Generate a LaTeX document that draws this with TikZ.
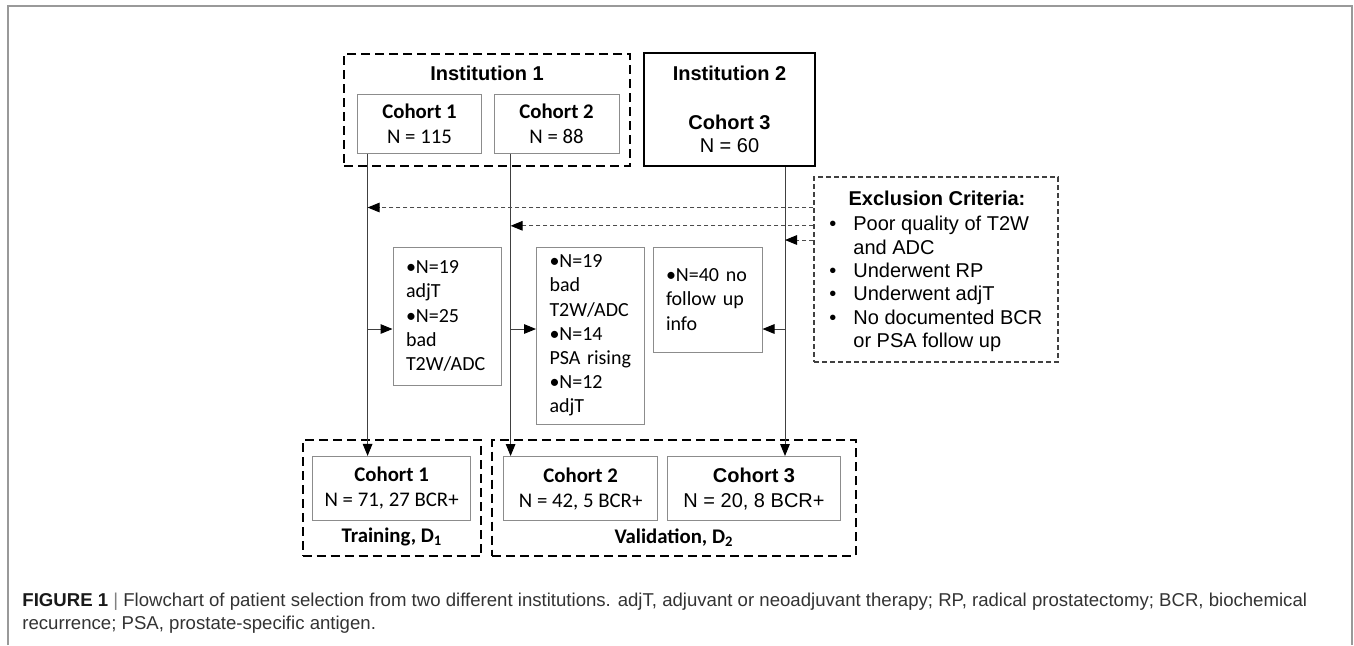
\documentclass[tikz,border=0pt]{standalone}
\usepackage{fontspec}
\setmainfont{Liberation Sans}
\newfontfamily\calfont{Carlito}
\usetikzlibrary{arrows.meta,positioning}

\begin{document}
\begin{tikzpicture}[%
    x=0.5pt, y=-0.5pt,                       % one unit is one pixel of the sketch
    >={Triangle[length=6pt,width=4.8pt,color=black]},  % filled arrow heads
    font=\fontsize{10}{11.5}\selectfont,     % Arial-like text by default
    ]
% -------------------------------------------------
% A few box styles
\tikzset{
  base/.style={draw, align=center, inner sep=0pt},
  cal/.style={font=\calfont\fontsize{10.4}{12.5}\selectfont},
  grp/.style={base, line width=1pt, dash pattern=on 4.5pt off 2.5pt},
  cohort/.style={base, cal, draw=black!45, line width=0.5pt},
  instbox/.style={base, line width=1pt},
  excl/.style={base, draw=black!75, line width=0.6pt, dash pattern=on 2.5pt off 1.5pt},
  outbox/.style={base, draw=black!45, line width=0.5pt, align=left,
    font=\calfont\fontsize{10}{12.1}\selectfont, inner xsep=6.5pt},
  % Connector line styles
  flow/.style={draw=black!75, line width=0.5pt},
  to/.style={flow, ->},
  dsh/.style={->, draw=black!70, line width=0.5pt, dash pattern=on 2pt off 1.5pt},
  frame/.style={draw=black!40, line width=1pt},
  it/.style={font=\calfont\bfseries\fontsize{10.4}{12.5}\selectfont},
  capline/.style={anchor=west, inner sep=0pt, text=black!80, font=\fontsize{9.3}{11.5}\selectfont}
}
\useasboundingbox (0,0) rectangle (1354,645);
\draw[frame] (8,645) -- (8,6) -- (1352,6) -- (1352,645);
% -------------------------------------------------
% Sources
\node [grp, minimum width=143pt, minimum height=56pt] (inst1) at (487,110) {};
\node [font=\bfseries\fontsize{10}{12}\selectfont] (inst1t) at (487,73) {Institution 1};
\node [cohort, minimum width=62pt, minimum height=29.5pt] (coh1a) at (419.5,123.5)
  {\textbf{Cohort 1}\\N = 115};
\node [cohort, minimum width=62.5pt, minimum height=29.5pt] (coh2a) at (556.5,123.5)
  {\textbf{Cohort 2}\\N = 88};
\node [instbox, minimum width=85.5pt, minimum height=56.5pt] (inst2) at (729.5,109.5)
  {\textbf{Institution 2}\\[13pt]\textbf{Cohort 3}\\N = 60};

% Exclusion criteria
\node [excl, minimum width=122pt, minimum height=92.5pt] (excl) at (936,269.5) {};
\node [font=\bfseries\fontsize{10}{12}\selectfont] (exclt) at (937,198) {Exclusion Criteria:};
\node [anchor=north west, inner sep=0pt, font=\fontsize{10}{11.7}\selectfont] (exlist) at (829,214)
  {\begin{tabular}{@{}p{12pt}@{}l@{}}
   \textbullet & Poor quality of T2W\\
               & and ADC\\
   \textbullet & Underwent RP\\
   \textbullet & Underwent adjT\\
   \textbullet & No documented BCR\\
               & or PSA follow up
   \end{tabular}};

% Excluded patients
\node [outbox, text width=41pt, minimum height=69pt] (outA) at (447,316)
  {•N=19\\adjT\\•N=25\\bad\\T2W/ADC};
\node [outbox, text width=41pt, minimum height=88.5pt] (outB) at (590.5,335.5)
  {•N=19\\bad\\T2W/ADC\\•N=14\\PSA rising\\•N=12\\adjT};
\node [outbox, text width=41.5pt, minimum height=52.5pt] (outC) at (707.5,299.5)
  {•N=40 no\\follow up\\info};

% Final data sets
\node [grp, minimum width=89.4pt, minimum height=57.7pt] (train) at (392,498) {};
\node [grp, minimum width=181.8pt, minimum height=57.7pt] (valid) at (674.2,498) {};
\node [cohort, minimum width=79.2pt, minimum height=31.9pt] (coh1b) at (391.6,488.3)
  {\textbf{Cohort 1}\\N = 71, 27 BCR+};
\node [cohort, minimum width=76.8pt, minimum height=32.2pt] (coh2b) at (580.6,488.7)
  {\textbf{Cohort 2}\\N = 42, 5 BCR+};
\node [base, draw=black!45, line width=0.5pt, minimum width=86.3pt, minimum height=32.2pt,
  font=\fontsize{10}{12.5}\selectfont] (coh3b) at (754,488.7)
  {\textbf{Cohort 3}\\N = 20, 8 BCR+};
\node [it] (trainl) at (392,537.4) {Training, D\textsubscript{1}};
\node [it] (validl) at (674,537.4) {Validation, D\textsubscript{2}};

% -------------------------------------------------
% Connectors
\coordinate (l1) at (367.6,0);
\coordinate (l2) at (510.6,0);
\coordinate (l3) at (785,0);
\coordinate (mid) at (0,329);
\draw[to] (coh1a.south -| l1) -- (coh1b.north -| l1);
\draw[to] (coh2a.south -| l2) -- (coh2b.north -| l2);
\draw[to] (inst2.south -| l3) -- (coh3b.north -| l3);

\draw[to] (l1 |- mid) -- (outA.west |- mid);
\draw[to] (l2 |- mid) -- (outB.west |- mid);
\draw[to] (l3 |- mid) -- (outC.east |- mid);

\draw[dsh] (excl.west |- 0,207.5) -- (l1 |- 0,207.5);
\draw[dsh] (excl.west |- 0,225.8) -- (l2 |- 0,225.8);
\draw[dsh] (excl.west |- 0,240) -- (l3 |- 0,240);

% -------------------------------------------------
% Caption
\node [capline] (cap1) at (22,602)
  {\textbf{\textcolor{black!90}{FIGURE 1}} \textcolor{black!50}{|} Flowchart of patient selection from two different institutions. adjT, adjuvant or neoadjuvant therapy; RP, radical prostatectomy; BCR, biochemical};
\node [capline] (cap2) at (22,625)
  {recurrence; PSA, prostate-specific antigen.};
\end{tikzpicture}
\end{document}
